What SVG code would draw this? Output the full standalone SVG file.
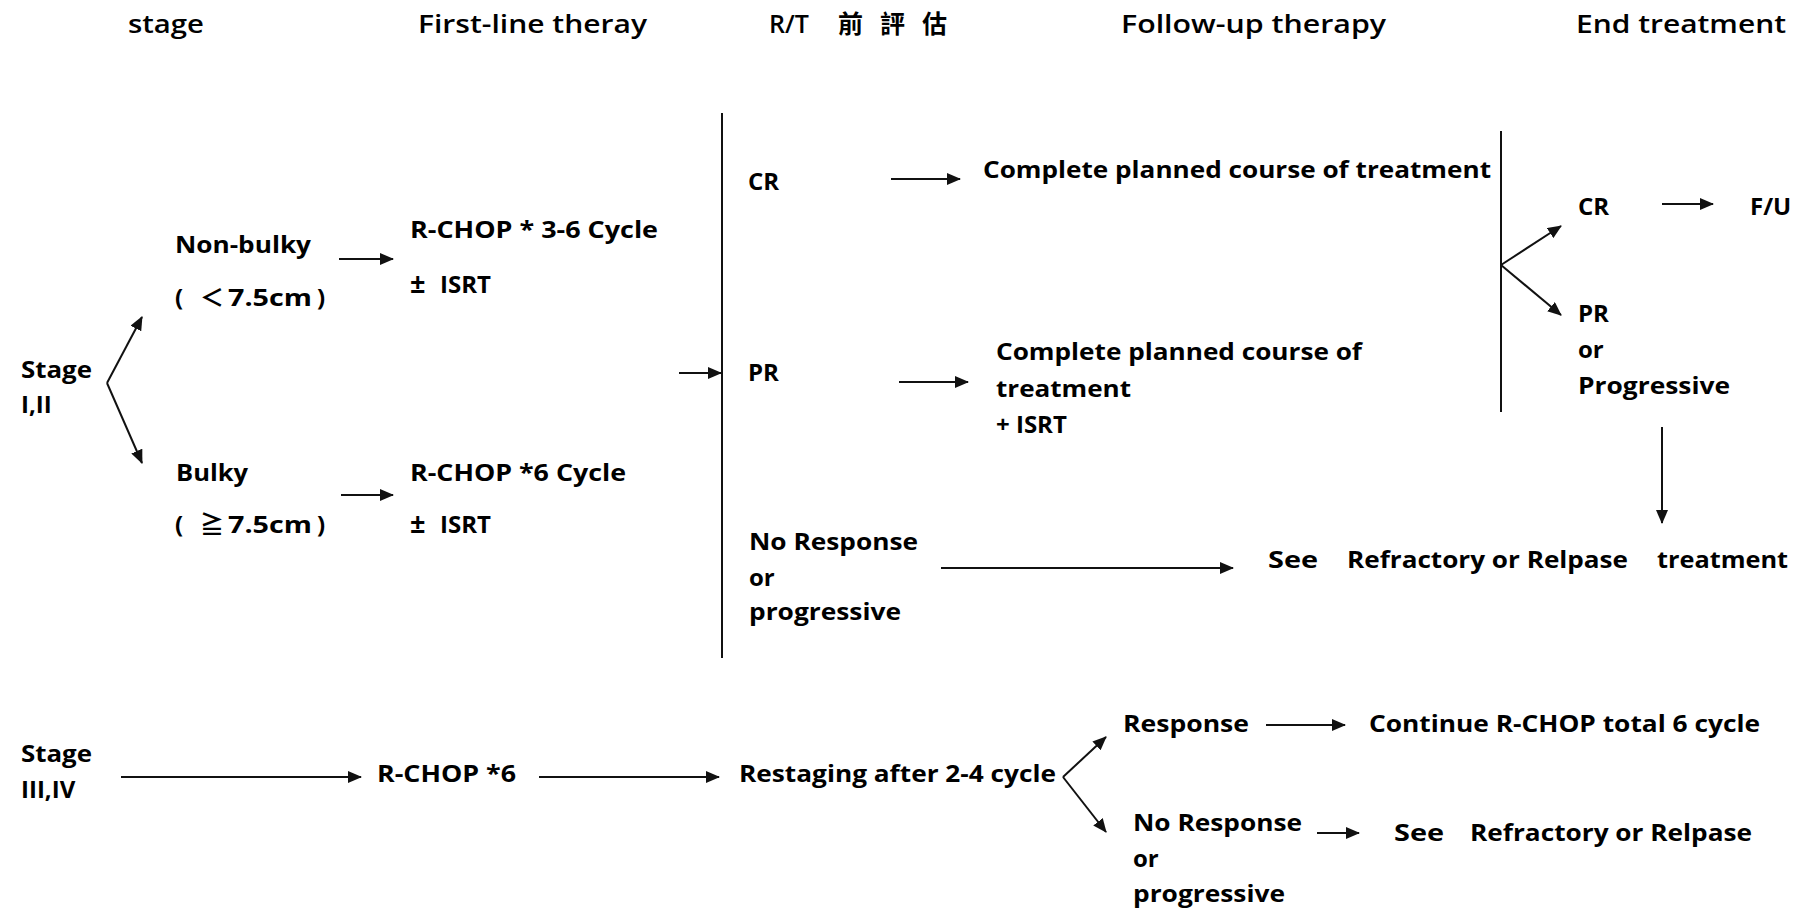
<svg xmlns="http://www.w3.org/2000/svg" width="1807" height="916" viewBox="0 0 1807 916">
<style>
.h{font-family:"Open Sans","Liberation Sans","Noto Sans CJK TC",sans-serif;font-size:25px;font-weight:600;fill:#000}
.t{font-family:"Open Sans","Liberation Sans","Noto Sans CJK TC",sans-serif;font-size:24px;font-weight:bold;fill:#000}
.ln{stroke:#111;stroke-width:2;fill:none}
.ar{stroke:#111;stroke-width:2;fill:none;marker-end:url(#ah)}
</style>
<defs>
<marker id="ah" markerUnits="userSpaceOnUse" markerWidth="14" markerHeight="12" refX="13" refY="6" orient="auto">
<path d="M0,0 L14,6 L0,12 z" fill="#111"/>
</marker>
</defs>
<rect width="1807" height="916" fill="#fff"/>

<g id="headers">
<text class="h" x="128" y="33" textLength="76" lengthAdjust="spacingAndGlyphs">stage</text>
<text class="h" x="418" y="33" textLength="229" lengthAdjust="spacingAndGlyphs">First-line theray</text>
<text class="h" x="769" y="33">R/T<tspan x="838 880 922">前評估</tspan></text>
<text class="h" x="1121" y="33" textLength="265" lengthAdjust="spacingAndGlyphs">Follow-up therapy</text>
<text class="h" x="1576" y="33" textLength="210" lengthAdjust="spacingAndGlyphs">End treatment</text>
</g>

<g id="stage12">
<text class="t" x="21" y="378" textLength="71" lengthAdjust="spacingAndGlyphs">Stage</text>
<text class="t" x="21" y="413">I,II</text>
</g>

<g id="nonbulky">
<text class="t" x="175" y="253" textLength="136" lengthAdjust="spacingAndGlyphs">Non-bulky</text>
<text class="t" x="175" y="306">(<tspan x="200">＜</tspan><tspan x="228" textLength="84" lengthAdjust="spacingAndGlyphs">7.5cm</tspan><tspan x="317">)</tspan></text>
</g>

<g id="bulky">
<text class="t" x="176" y="481" textLength="72" lengthAdjust="spacingAndGlyphs">Bulky</text>
<text class="t" x="175" y="533">(<tspan x="200">≧</tspan><tspan x="228" textLength="84" lengthAdjust="spacingAndGlyphs">7.5cm</tspan><tspan x="317">)</tspan></text>
</g>

<g id="rchop36">
<text class="t" x="410" y="238" textLength="248" lengthAdjust="spacingAndGlyphs">R-CHOP * 3-6 Cycle</text>
<text class="t" x="410" y="293" style="font-size:27px">±<tspan x="440" style="font-size:24px">ISRT</tspan></text>
</g>

<g id="rchop6cycle">
<text class="t" x="410" y="481" textLength="216" lengthAdjust="spacingAndGlyphs">R-CHOP *6 Cycle</text>
<text class="t" x="410" y="533" style="font-size:27px">±<tspan x="440" style="font-size:24px">ISRT</tspan></text>
</g>

<g id="cr1">
<text class="t" x="748" y="190">CR</text>
</g>
<g id="complete1">
<text class="t" x="983" y="178" textLength="508" lengthAdjust="spacingAndGlyphs">Complete planned course of treatment</text>
</g>

<g id="pr1">
<text class="t" x="748" y="381">PR</text>
</g>
<g id="complete2">
<text class="t" x="996" y="360" textLength="366" lengthAdjust="spacingAndGlyphs">Complete planned course of</text>
<text class="t" x="996" y="397" textLength="135" lengthAdjust="spacingAndGlyphs">treatment</text>
<text class="t" x="996" y="433">+ ISRT</text>
</g>

<g id="noresp1">
<text class="t" x="749" y="550" textLength="169" lengthAdjust="spacingAndGlyphs">No Response</text>
<text class="t" x="749" y="586">or</text>
<text class="t" x="749" y="620" textLength="152" lengthAdjust="spacingAndGlyphs">progressive</text>
</g>

<g id="see1">
<text class="t" x="1268" y="568" textLength="50" lengthAdjust="spacingAndGlyphs">See</text>
<text class="t" x="1347" y="568" textLength="281" lengthAdjust="spacingAndGlyphs">Refractory or Relpase</text>
<text class="t" x="1657" y="568" textLength="131" lengthAdjust="spacingAndGlyphs">treatment</text>
</g>

<g id="cr2">
<text class="t" x="1578" y="215">CR</text>
</g>
<g id="fu">
<text class="t" x="1750" y="215">F/U</text>
</g>
<g id="pr2">
<text class="t" x="1578" y="322">PR</text>
<text class="t" x="1578" y="358">or</text>
<text class="t" x="1578" y="394" textLength="152" lengthAdjust="spacingAndGlyphs">Progressive</text>
</g>

<g id="stage34">
<text class="t" x="21" y="762" textLength="71" lengthAdjust="spacingAndGlyphs">Stage</text>
<text class="t" x="21" y="798">III,IV</text>
</g>
<g id="rchop6">
<text class="t" x="377" y="782" textLength="139" lengthAdjust="spacingAndGlyphs">R-CHOP *6</text>
</g>
<g id="restaging">
<text class="t" x="739" y="782" textLength="317" lengthAdjust="spacingAndGlyphs">Restaging after 2-4 cycle</text>
</g>
<g id="response">
<text class="t" x="1123" y="732" textLength="126" lengthAdjust="spacingAndGlyphs">Response</text>
</g>
<g id="continue">
<text class="t" x="1369" y="732" textLength="391" lengthAdjust="spacingAndGlyphs">Continue R-CHOP total 6 cycle</text>
</g>
<g id="noresp2">
<text class="t" x="1133" y="831" textLength="169" lengthAdjust="spacingAndGlyphs">No Response</text>
<text class="t" x="1133" y="867">or</text>
<text class="t" x="1133" y="902" textLength="152" lengthAdjust="spacingAndGlyphs">progressive</text>
</g>
<g id="see2">
<text class="t" x="1394" y="841" textLength="50" lengthAdjust="spacingAndGlyphs">See</text>
<text class="t" x="1470" y="841" textLength="282" lengthAdjust="spacingAndGlyphs">Refractory or Relpase</text>
</g>

<g id="connectors">
<path class="ar" d="M107,383 L142,317"/>
<path class="ar" d="M107,383 L142,463"/>
<path class="ar" d="M339,259 L393,259"/>
<path class="ar" d="M341,495 L393,495"/>
<path class="ar" d="M679,373 L721,373"/>
<path class="ln" d="M722,113 L722,658"/>
<path class="ar" d="M891,179 L960,179"/>
<path class="ar" d="M899,382 L968,382"/>
<path class="ar" d="M941,568 L1233,568"/>
<path class="ln" d="M1501,131 L1501,412"/>
<path class="ar" d="M1501,265 L1561,226"/>
<path class="ar" d="M1501,265 L1561,315"/>
<path class="ar" d="M1662,204 L1713,204"/>
<path class="ar" d="M1662,427 L1662,523"/>
<path class="ar" d="M121,777 L361,777"/>
<path class="ar" d="M539,777 L719,777"/>
<path class="ar" d="M1063,777 L1106,737"/>
<path class="ar" d="M1063,777 L1106,832"/>
<path class="ar" d="M1266,725 L1345,725"/>
<path class="ar" d="M1317,833 L1359,833"/>
</g>
</svg>
